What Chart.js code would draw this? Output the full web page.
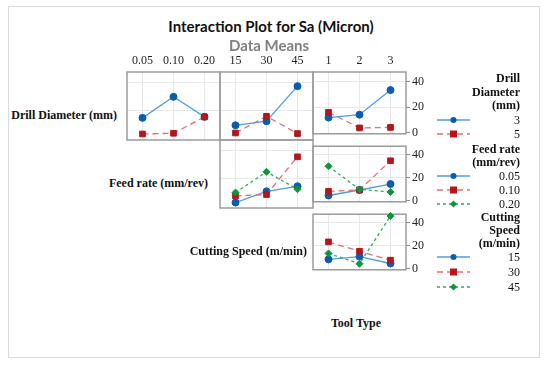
<!DOCTYPE html>
<html>
<head>
<meta charset="utf-8">
<script src="https://cdn.jsdelivr.net/npm/chart.js@4.4.0/dist/chart.umd.min.js"></script>
<style>
  body { margin: 0; width: 550px; height: 369px; background: #fff; position: relative; overflow: hidden; font-family: "Liberation Serif", serif; }
  #frame { position: absolute; left: 8px; top: 6px; width: 532px; height: 352px; border: 1.5px solid #dadada; box-sizing: border-box; }
  .t { position: absolute; white-space: nowrap; line-height: 1; color: #111; }
  canvas { position: absolute; }
  svg { position: absolute; left: 0; top: 0; }
</style>
</head>
<body>
<div id="frame"></div>
<script>
// ===== categories / tick labels =====
const feedRates = ['0.05', '0.10', '0.20'];
const cuttingSpeeds = ['15', '30', '45'];
const toolTypes = ['1', '2', '3'];
const drillDiameters = ['3', '5'];
const yTicks = [0, 20, 40];

// ===== means of Sa (micron) =====
// row 1 : traces for Drill Diameter 3 / 5
const drill3VsFeed = [14.8, 29.8, 15.5];
const drill5VsFeed = [3.3, 3.8, 15.5];
const drill3VsSpeed = [9.5, 12.4, 37.4];
const drill5VsSpeed = [4.0, 15.9, 3.6];
const drill3VsTool = [11.7, 14.0, 33.3];
const drill5VsTool = [15.9, 3.6, 4.0];
// row 2 : traces for Feed rate 0.05 / 0.10 / 0.20
const feed005VsSpeed = [2.9, 10.9, 14.5];
const feed010VsSpeed = [7.6, 8.6, 35.5];
const feed020VsSpeed = [10.0, 24.8, 12.4];
const feed005VsTool = [4.5, 9.3, 14.5];
const feed010VsTool = [8.1, 9.3, 34.8];
const feed020VsTool = [30.0, 9.8, 7.6];
// row 3 : traces for Cutting Speed 15 / 30 / 45
const speed15VsTool = [8.1, 10.5, 4.5];
const speed30VsTool = [23.3, 15.2, 7.4];
const speed45VsTool = [13.3, 4.3, 45.9];

// ===== styles =====
const STYLES = [
  { line: '#4f9ddf', point: '#0d5cae', dash: [], shape: 'circle', r: 3.5 },
  { line: '#e36f74', point: '#b3161b', dash: [6, 4], shape: 'rect', r: 4 },
  { line: '#25b04f', point: '#0b9637', dash: [3, 3], shape: 'rectRot', r: 3.5 }
];

const PANEL_LEFT = 127, PANEL_TOP = 72, PANEL_W = 93, PANEL_H = 68;
const TICK_FONT = { family: 'Liberation Serif', size: 12 };

const panels = [
  { row: 0, col: 0, cats: feedRates, series: [drill3VsFeed, drill5VsFeed] },
  { row: 0, col: 1, cats: cuttingSpeeds, series: [drill3VsSpeed, drill5VsSpeed] },
  { row: 0, col: 2, cats: toolTypes, series: [drill3VsTool, drill5VsTool] },
  { row: 1, col: 1, cats: cuttingSpeeds, series: [feed005VsSpeed, feed010VsSpeed, feed020VsSpeed] },
  { row: 1, col: 2, cats: toolTypes, series: [feed005VsTool, feed010VsTool, feed020VsTool] },
  { row: 2, col: 2, cats: toolTypes, series: [speed15VsTool, speed30VsTool, speed45VsTool] }
];

// draws the grey box round each panel
const boxPlugin = {
  id: 'box',
  beforeDatasetsDraw(chart) {
    const a = chart.chartArea, ctx = chart.ctx;
    ctx.save();
    ctx.strokeStyle = '#9c9c9c';
    ctx.lineWidth = 1.5;
    ctx.strokeRect(a.left, a.top, a.right - a.left, a.bottom - a.top);
    ctx.restore();
  }
};

function makePanel(p) {
  const m = 3;
  const topAxis = p.row === 0 ? 20 : 0;
  const rightAxis = p.col === 2 ? 30 : 0;
  const left = PANEL_LEFT + p.col * PANEL_W;
  const top = PANEL_TOP + p.row * PANEL_H;
  const w = PANEL_W + 2 * m + rightAxis;
  const h = PANEL_H + 2 * m + topAxis;

  const cv = document.createElement('canvas');
  cv.width = w; cv.height = h;
  cv.style.left = (left - m) + 'px';
  cv.style.top = (top - m - topAxis) + 'px';
  cv.style.width = w + 'px';
  cv.style.height = h + 'px';
  document.body.appendChild(cv);

  const n = p.series.length;
  new Chart(cv, {
    type: 'line',
    data: {
      labels: p.cats,
      datasets: p.series.map((d, i) => ({
        data: d,
        order: n - i,
        borderColor: STYLES[i].line,
        borderWidth: 1.3,
        borderDash: STYLES[i].dash,
        pointStyle: STYLES[i].shape,
        pointRadius: STYLES[i].r,
        pointBackgroundColor: STYLES[i].point,
        pointBorderColor: STYLES[i].point,
        pointBorderWidth: 1,
        tension: 0,
        fill: false,
        clip: 6
      }))
    },
    options: {
      responsive: false,
      animation: false,
      devicePixelRatio: 1,
      layout: { padding: m, autoPadding: false },
      plugins: { legend: { display: false }, tooltip: { enabled: false } },
      scales: {
        x: {
          type: 'category',
          position: p.row === 0 ? 'top' : 'bottom',
          offset: true,
          grid: { color: '#e8e8e8', drawTicks: false, offset: false },
          border: { display: false },
          ticks: { display: p.row === 0, padding: 4, color: '#222', font: TICK_FONT, maxRotation: 0, autoSkip: false },
          afterFit: s => { s.height = topAxis; }
        },
        y: {
          position: 'right',
          min: -1,
          max: 47.5,
          afterBuildTicks: s => { s.ticks = yTicks.map(v => ({ value: v })); },
          grid: {
            color: c => (c.tick && c.tick.value === 0) ? 'rgba(0,0,0,0)' : '#e8e8e8',
            drawTicks: p.col === 2,
            tickLength: 4,
            tickColor: '#8c8c8c'
          },
          border: { display: false },
          ticks: { display: p.col === 2, padding: 2, color: '#222', font: TICK_FONT },
          afterFit: s => { s.width = rightAxis; }
        }
      }
    },
    plugins: [boxPlugin]
  });
}

panels.forEach(makePanel);

// ===== text =====
function addText(str, x, y, opts) {
  const el = document.createElement('div');
  el.className = 't';
  el.textContent = str;
  el.style.top = y + 'px';
  el.style.fontSize = (opts.size || 12) + 'px';
  el.style.fontWeight = opts.bold ? 'bold' : 'normal';
  if (opts.family) el.style.fontFamily = opts.family;
  if (opts.color) el.style.color = opts.color;
  if (opts.align === 'right') {
    el.style.right = (550 - x) + 'px';
    el.style.transform = 'translateY(-50%)';
  } else if (opts.align === 'center') {
    el.style.left = x + 'px';
    el.style.transform = 'translate(-50%,-50%)';
  } else {
    el.style.left = x + 'px';
    el.style.transform = 'translateY(-50%)';
  }
  document.body.appendChild(el);
}

addText('Interaction Plot for Sa (Micron)', 271, 26, { size: 15, bold: true, family: 'Lato', align: 'center' });
addText('Data Means', 269, 45, { size: 15, bold: true, family: 'Lato', color: '#808080', align: 'center' });

addText('Drill Diameter (mm)', 117, 115, { bold: true, align: 'right' });
addText('Feed rate (mm/rev)', 208, 183, { bold: true, align: 'right' });
addText('Cutting Speed (m/min)', 307, 251, { bold: true, align: 'right' });
addText('Tool Type', 356, 323, { bold: true, align: 'center' });

// ===== legend =====
const LEG_RIGHT = 520;
const legendGroups = [
  { title: ['Drill', 'Diameter', '(mm)'], titleY: [78, 92, 105], items: drillDiameters, itemY: [120, 134] },
  { title: ['Feed rate', '(mm/rev)'], titleY: [149, 162], items: feedRates, itemY: [176, 190, 204] },
  { title: ['Cutting', 'Speed', '(m/min)'], titleY: [217, 230, 243], items: cuttingSpeeds, itemY: [257, 272, 287] }
];

const svgNS = 'http://www.w3.org/2000/svg';
const svg = document.createElementNS(svgNS, 'svg');
svg.setAttribute('width', 550);
svg.setAttribute('height', 369);
document.body.appendChild(svg);

function svgEl(tag, attrs) {
  const e = document.createElementNS(svgNS, tag);
  for (const k in attrs) e.setAttribute(k, attrs[k]);
  svg.appendChild(e);
}

legendGroups.forEach(g => {
  g.title.forEach((s, i) => addText(s, LEG_RIGHT, g.titleY[i], { bold: true, align: 'right' }));
  g.items.forEach((s, i) => {
    const y = g.itemY[i];
    const st = STYLES[i];
    addText(s, LEG_RIGHT, y, { align: 'right' });
    svgEl('line', { x1: 437, y1: y, x2: 470, y2: y, stroke: st.line, 'stroke-width': 1.3, 'stroke-dasharray': st.dash.join(' ') });
    if (st.shape === 'circle') svgEl('circle', { cx: 453.5, cy: y, r: 3, fill: st.point });
    else if (st.shape === 'rect') svgEl('rect', { x: 450, y: y - 3.5, width: 7, height: 7, fill: st.point });
    else svgEl('rect', { x: 451, y: y - 2.5, width: 5, height: 5, fill: st.point, transform: `rotate(45 453.5 ${y})` });
  });
});
</script>
</body>
</html>
